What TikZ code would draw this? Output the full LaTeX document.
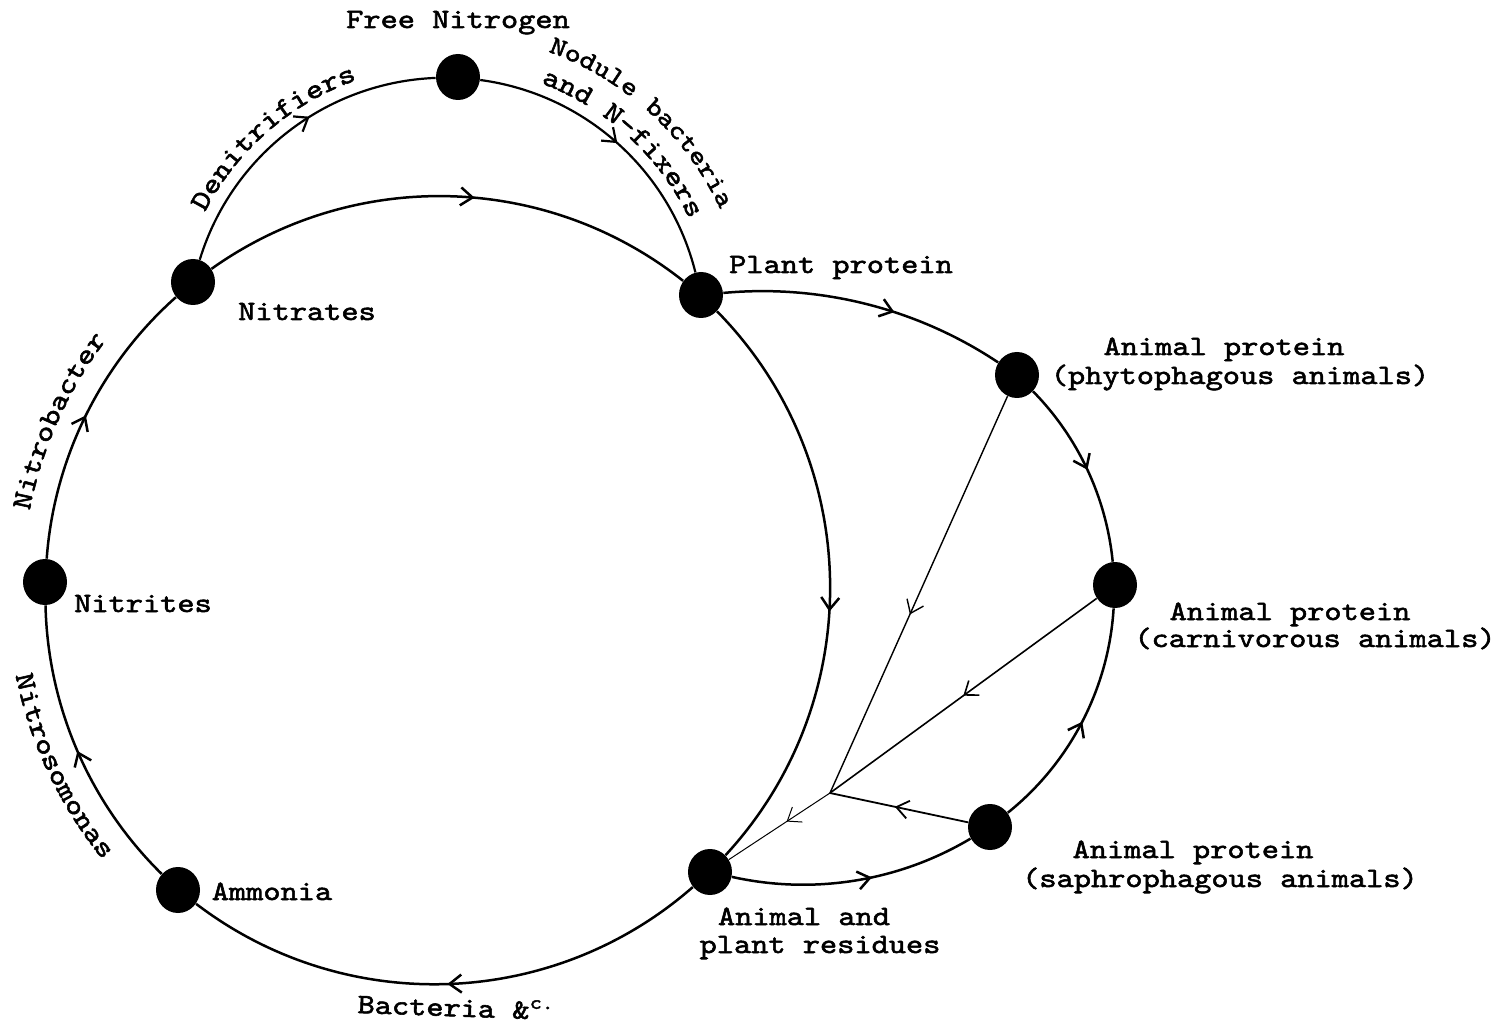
\documentclass[tikz,border=0pt]{standalone}
\usepackage{fontspec}
\newfontfamily\tw{lmmono10-regular.otf}[FakeStretch=1.17, FakeBold=2]
\usetikzlibrary{arrows.meta,decorations.markings,decorations.text,calc}
\newcommand\labfont{\tw\fontsize{14}{17}\selectfont}
\newcommand\smlabfont{\tw\fontsize{13}{15}\selectfont}
\tikzset{
  dot/.style={ellipse, fill=black, inner sep=0pt, minimum width=22pt, minimum height=23pt},
  lab/.style={font=\labfont, inner sep=0pt, anchor=base},
  flow/.style={line width=1.25pt, postaction={decorate},
    decoration={markings, mark=at position #1 with {\arrow{Straight Barb[length=6pt,width=9pt]}}}},
  flow/.default=0.5,
  feed/.style={line width=0.7pt, postaction={decorate},
    decoration={markings, mark=at position #1 with {\arrow{Straight Barb[length=6pt,width=9pt]}}}},
  feed/.default=0.5,
}
\usetikzlibrary{shapes.geometric}
\begin{document}
\begin{tikzpicture}[x=0.5pt,y=0.5pt]
\fill[white] (0,0) rectangle (1500,1030);
\useasboundingbox (0,0) rectangle (1500,1030);
\coordinate (C1) at (435,440);
\coordinate (C2) at (446,694);
% nodes
\node[dot] (free) at (458,953) {};
\node[dot] (nitrates) at (193,748) {};
\node[dot] (plant) at (701,735) {};
\node[dot] (nitrites) at (45,448) {};
\node[dot] (ammonia) at (178,140) {};
\node[dot] (residues) at (710,158) {};
\node[dot] (phyto) at (1017,655) {};
\node[dot] (carn) at (1115,445) {};
\node[dot] (saphro) at (990,203) {};
\coordinate (J) at (830,237);
% main cycle
\draw[flow] (nitrites) to[bend left=22.1, looseness=0.884] (nitrates);
\draw[flow=0.55] (nitrates) to[bend left=36.9, looseness=0.946] (plant);
\draw[flow=0.55] (plant) to[bend left=43.6, looseness=0.988] (residues);
\draw[flow] (residues) to[bend left=39.3, looseness=0.96] (ammonia);
\draw[flow] (ammonia) to[bend left=22.1, looseness=0.884] (nitrites);
% upper arc
\draw[flow=0.58, line width=1.1pt] (nitrates) to[bend left=35.4, looseness=0.938] (free);
\draw[flow, line width=1.1pt] (free) to[bend left=34.2, looseness=0.932] (plant);
% right part
\draw[flow=0.6] (plant) to[bend left=19.5, looseness=0.878] (phyto);
\draw[flow] (phyto) to[bend left=19.4, looseness=0.876] (carn);
\draw[flow] (saphro) to[bend right=23.9, looseness=0.89] (carn);
\draw[flow=0.57] (residues) to[bend right=21.7, looseness=0.883] (saphro);
% feeding lines
\draw[feed=0.55] (phyto) -- (J);
\draw[feed, line width=0.8pt] (carn) -- (J);
\draw[feed=0.53, line width=0.9pt] (saphro) -- (J);
\draw[feed=0.43, line width=0.5pt] (J) -- (residues);
% labels
\node[lab] (lfree) at (458,1002) {Free Nitrogen};
\node[lab] (lnitrates) at (307,710) {Nitrates};
\node[lab] (lplant) at (841,757) {Plant protein};
\node[lab] (lphyto1) at (1224,675) {Animal protein};
\node[lab] (lphyto2) at (1240,646) {(phytophagous animals)};
\node[lab] (lcarn1) at (1290,410) {Animal protein};
\node[lab] (lcarn2) at (1315,383) {(carnivorous animals)};
\node[lab] (lsaph1) at (1193,172) {Animal protein};
\node[lab] (lsaph2) at (1220,143) {(saphrophagous animals)};
\node[lab] (lres1) at (804,105) {Animal and};
\node[lab] (lres2) at (820,77) {plant residues};
\node[lab] (lnitrites) at (143,418) {Nitrites};
\node[lab] (lammonia) at (272,130) {Ammonia};
\node[lab, anchor=base west, rotate=-2] (lbact) at (357,17) {Bacteria \&\textsuperscript{c.}};
% curved labels
\path[decorate, decoration={text along path, text align=center, text={|\labfont|Denitrifiers}}]
  ($(C2)+(166:271)$) arc[start angle=166, end angle=96, radius=271];
\path[decorate, decoration={text along path, text align=center, text={|\smlabfont|Nodule bacteria}}]
  ($(C2)+(82:302)$) arc[start angle=82, end angle=13, radius=302];
\path[decorate, decoration={text along path, text align=center, text={|\labfont|and N-fixers}}]
  ($(C2)+(82:270)$) arc[start angle=82, end angle=13, radius=270];
\path[decorate, decoration={text along path, text align=center, text={|\labfont|Nitrobacter}}]
  ($(C1)+(175:413)$) arc[start angle=175, end angle=136.6, radius=413];
\path[decorate, decoration={text along path, text align=center, text={|\labfont|Nitrosomonas}}]
  ($(C1)+(185:428)$) arc[start angle=185, end angle=225.6, radius=428];
\end{tikzpicture}
\end{document}
